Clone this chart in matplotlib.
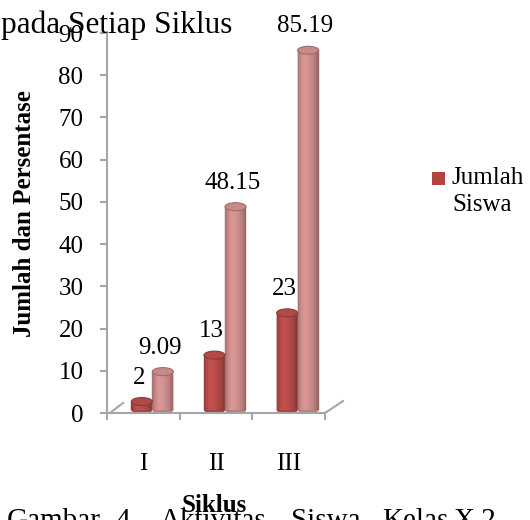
import numpy as np
import matplotlib
matplotlib.use("Agg")
import matplotlib.pyplot as plt
from matplotlib.colors import LinearSegmentedColormap, to_rgb
from matplotlib.patches import Ellipse, Rectangle
from matplotlib.transforms import ScaledTranslation

plt.rcParams['font.family'] = ['Liberation Serif', 'DejaVu Serif']

# Data
siklus = ["I", "II", "III"]
jumlah_siswa = [2, 13, 23]
persentase = [9.09, 48.15, 85.19]
y_ticks = [0, 10, 20, 30, 40, 50, 60, 70, 80, 90]

DARK = "#C0504D"
LIGHT = "#D99694"
GREY = "#A6A6A6"

W, H = 530, 520
fig = plt.figure(figsize=(W / 100, H / 100), dpi=100)
fig.patch.set_facecolor("white")

ax = fig.add_axes([107 / W, 1 - 413 / H, 218 / W, 380 / H])
ax.set_xlim(0, 3)
ax.set_ylim(0, 90)


def shade_cmap(base):
    r, g, b = to_rgb(base)
    stops = [(0.0, 0.74), (0.12, 0.88), (0.32, 1.02), (0.55, 0.97), (0.82, 0.85), (1.0, 0.68)]
    cols = [(p, tuple(min(1, c * f) for c in (r, g, b))) for p, f in stops]
    return LinearSegmentedColormap.from_list("cyl", cols)


def scaled(base, f):
    return tuple(min(1, c * f) for c in to_rgb(base))


# 3D depth offset for the cylinders
depth = ax.transData + ScaledTranslation(0.09, 0.03, fig.dpi_scale_trans)

bar_w = 0.289
cap_h = 1.9
n_slices = 28


def cylinder(xc, value, base):
    cmap = shade_cmap(base)
    left = xc - bar_w / 2
    sw = bar_w / n_slices
    # rounded bottom
    ax.add_patch(Ellipse((xc, 0), bar_w, cap_h, facecolor=scaled(base, 0.85),
                         edgecolor="none", transform=depth, zorder=2))
    for k in range(n_slices):
        col = cmap((k + 0.5) / n_slices)
        ax.bar(left + k * sw, value, width=sw, align="edge", color=col,
               edgecolor=col, linewidth=0.3, transform=depth, zorder=3)
    # top cap
    ax.add_patch(Ellipse((xc, value), bar_w, cap_h, facecolor=scaled(base, 0.92),
                         edgecolor=scaled(base, 0.72), linewidth=0.8,
                         transform=depth, zorder=4))


centers = np.arange(len(siklus)) + 0.5
for i, c in enumerate(centers):
    xd = c - bar_w / 2
    xl = c + bar_w / 2
    cylinder(xd, jumlah_siswa[i], DARK)
    cylinder(xl, persentase[i], LIGHT)
    for x, v in ((xd, jumlah_siswa[i]), (xl, persentase[i])):
        ax.annotate(f"{v:g}", xy=(x, v), xytext=(4.3, 11.5), textcoords="offset points",
                    ha="center", va="bottom", fontsize=18, annotation_clip=False, zorder=6)

# Axes styling
for s in ("top", "right"):
    ax.spines[s].set_visible(False)
for s in ("left", "bottom"):
    ax.spines[s].set_color(GREY)
    ax.spines[s].set_linewidth(1.5)

ax.set_yticks(y_ticks)
ax.tick_params(axis="y", direction="out", length=5, width=1.5, color=GREY,
               labelsize=18, pad=12)
ax.set_xticks([0, 1, 2, 3])
ax.set_xticklabels([])
ax.set_xticks(centers, minor=True)
ax.set_xticklabels(siklus, minor=True)
ax.tick_params(axis="x", which="major", direction="out", length=5, width=1.5, color=GREY)
ax.tick_params(axis="x", which="minor", length=0, labelsize=18, pad=29)

# Floor depth edges
floor = fig.dpi_scale_trans + ScaledTranslation(0, 0, ax.transData)
ax.plot([0.03, 0.16], [0.0, 0.10], color=GREY, lw=1.5, transform=floor, clip_on=False)
floor_r = fig.dpi_scale_trans + ScaledTranslation(3, 0, ax.transData)
ax.plot([0.0, 0.18], [0.0, 0.12], color=GREY, lw=1.5, transform=floor_r, clip_on=False)

ax.set_ylabel("Jumlah dan Persentase", fontsize=18, fontweight="bold")
ax.yaxis.set_label_coords((25 - 107) / 218, (413 - 214) / 380)
ax.yaxis.label.set_va("center")

# Legend
fig.patches.append(Rectangle((432 / W, 1 - 185 / H), 13 / W, 13 / H,
                             transform=fig.transFigure, facecolor="#B5443F",
                             edgecolor="none"))
fig.text(452 / W, 1 - 167 / H, "Jumlah\nSiswa", ha="left", va="top",
         fontsize=18, linespacing=1.28)

# Heading text above the chart
fig.text(232 / W, 1 - 25 / H, "pada Setiap Siklus", ha="right", va="center", fontsize=22.5)

# Caption below the chart
caption_words = ["Gambar", "4.", "Aktivitas", "Siswa", "Kelas", "X.2"]
caption_x = [7, 115, 160, 291, 382, 453]
for wtxt, x in zip(caption_words, caption_x):
    fig.text(x / W, 1 - 508 / H, wtxt, ha="left", va="top", fontsize=21, zorder=1)

ax.set_xlabel("Siklus", fontsize=18, fontweight="bold")
ax.xaxis.set_label_coords((214 - 107) / 218, (413 - 506) / 380)
ax.xaxis.label.set_va("center")
ax.xaxis.label.set_zorder(10)

fig.savefig("out.png", dpi=100, facecolor="white")
